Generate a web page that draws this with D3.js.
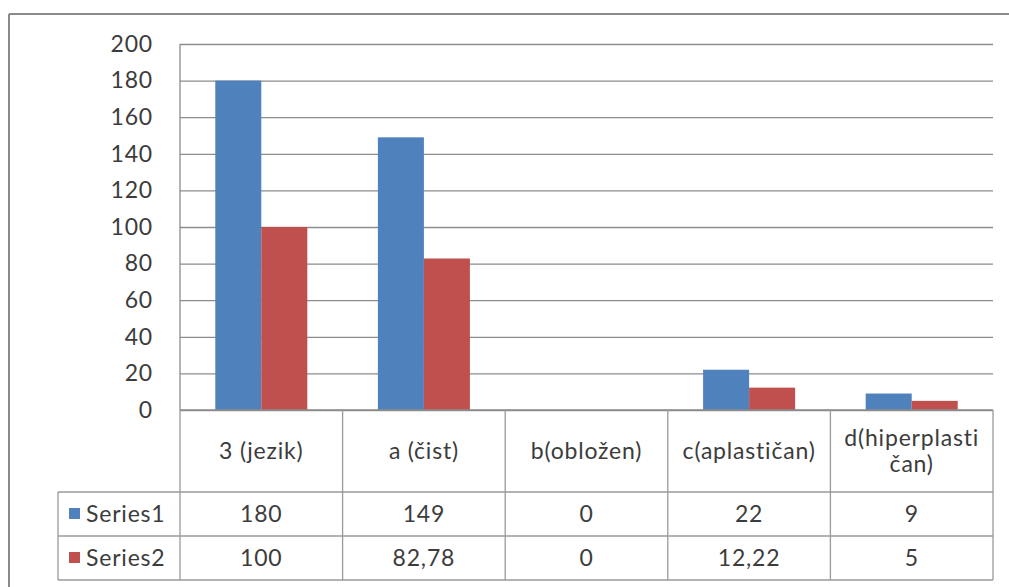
<!DOCTYPE html>
<html>
<head>
<meta charset="utf-8">
<script src="https://cdn.jsdelivr.net/npm/d3@7"></script>
<style>
  html, body { margin: 0; padding: 0; background: #ffffff; }
  svg { display: block; }
</style>
</head>
<body>
<svg id="chart" width="1009" height="587"></svg>
<script>
// Category labels (header cells may wrap onto two lines)
const categories = ["3 (jezik)", "a (čist)", "b(obložen)", "c(aplastičan)", "d(hiperplasti\nčan)"];
const seriesNames = ["Series1", "Series2"];
const series1 = [180, 149, 0, 22, 9];
const series2 = [100, 82.78, 0, 12.22, 5];
const series1Labels = ["180", "149", "0", "22", "9"];
const series2Labels = ["100", "82,78", "0", "12,22", "5"];
const yTicks = [0, 20, 40, 60, 80, 100, 120, 140, 160, 180, 200];
const seriesColors = ["#4F81BD", "#C0504D"];

const svg = d3.select("#chart");
const font = "Lato, 'Open Sans', sans-serif";
const fontSize = 23;
const spacing = "0.8px";
const textColor = "#3c3c3c";
const gridColor = "#8c8c8c";
const tableColor = "#9a9a9a";

const plot = { left: 180, right: 993, top: 44, bottom: 410 };
const tableRows = [410, 492, 536, 580];
const legendLeft = 58;

// Outer chart frame (top and left edges visible)
svg.append("line").attr("x1", 9).attr("x2", 1009).attr("y1", 14).attr("y2", 14)
  .attr("stroke", "#8a8a8a").attr("stroke-width", 2);
svg.append("line").attr("x1", 9).attr("x2", 9).attr("y1", 14).attr("y2", 587)
  .attr("stroke", "#8a8a8a").attr("stroke-width", 2);

const y = d3.scaleLinear().domain([0, 200]).range([plot.bottom, plot.top]);
const col = d3.scaleBand().domain(categories).range([plot.left, plot.right]).padding(0);
const inner = d3.scaleBand().domain(seriesNames).range([0, col.bandwidth()])
  .paddingInner(0).paddingOuter(0.767);

// Gridlines and value axis labels
const yAxis = d3.axisLeft(y).tickValues(yTicks).tickSize(-(plot.right - plot.left)).tickFormat(d3.format("d")).tickPadding(27);
const gAxis = svg.append("g").attr("transform", `translate(${plot.left},0)`).call(yAxis);
gAxis.select(".domain").remove();
gAxis.selectAll(".tick line").attr("stroke", gridColor).attr("stroke-width", 1.3);
gAxis.selectAll(".tick text").attr("fill", textColor).attr("font-family", font)
  .attr("font-size", fontSize).attr("letter-spacing", spacing);

// Vertical axis line
svg.append("line").attr("x1", plot.left).attr("x2", plot.left).attr("y1", plot.top).attr("y2", plot.bottom)
  .attr("stroke", gridColor).attr("stroke-width", 1.3);

// Bars
const data = seriesNames.map((s, i) => ({ name: s, values: i === 0 ? series1 : series2, color: seriesColors[i] }));
data.forEach(s => {
  svg.append("g").selectAll("rect").data(categories).join("rect")
    .attr("x", (c) => col(c) + inner(s.name))
    .attr("width", inner.bandwidth())
    .attr("y", (c, i) => y(s.values[i]))
    .attr("height", (c, i) => y(0) - y(s.values[i]))
    .attr("fill", s.color);
});

// Data table grid
const tbl = svg.append("g").attr("stroke", tableColor).attr("stroke-width", 1.3).attr("fill", "none");
tbl.append("line").attr("x1", plot.left).attr("x2", plot.right).attr("y1", tableRows[0]).attr("y2", tableRows[0]).attr("stroke", gridColor);
for (let r = 1; r < tableRows.length; r++) {
  tbl.append("line").attr("x1", legendLeft).attr("x2", plot.right).attr("y1", tableRows[r]).attr("y2", tableRows[r]);
}
const colEdges = categories.map(c => col(c)).concat([plot.right]);
colEdges.forEach(xv => {
  tbl.append("line").attr("x1", xv).attr("x2", xv).attr("y1", tableRows[0]).attr("y2", tableRows[3]);
});
tbl.append("line").attr("x1", legendLeft).attr("x2", legendLeft).attr("y1", tableRows[1]).attr("y2", tableRows[3]);

// Header cells
const header = svg.append("g").attr("font-family", font).attr("font-size", fontSize)
  .attr("letter-spacing", spacing).attr("fill", textColor).attr("text-anchor", "middle");
categories.forEach(c => {
  const lines = c.split("\n");
  const cx = col(c) + col.bandwidth() / 2;
  const cy = (tableRows[0] + tableRows[1]) / 2;
  const lh = 26;
  lines.forEach((ln, i) => {
    header.append("text").attr("x", cx).attr("y", cy + (i - (lines.length - 1) / 2) * lh).attr("dy", "0.35em").text(ln);
  });
});

// Value rows with legend keys
const rowLabels = [series1Labels, series2Labels];
seriesNames.forEach((s, r) => {
  const cy = (tableRows[r + 1] + tableRows[r + 2]) / 2;
  svg.append("rect").attr("x", 69).attr("y", cy - 6).attr("width", 11).attr("height", 11).attr("fill", seriesColors[r]);
  svg.append("text").attr("x", 86).attr("y", cy).attr("dy", "0.35em")
    .attr("font-family", font).attr("font-size", fontSize).attr("letter-spacing", spacing)
    .attr("fill", textColor).text(s);
  categories.forEach((c, i) => {
    svg.append("text").attr("x", col(c) + col.bandwidth() / 2).attr("y", cy).attr("dy", "0.35em")
      .attr("text-anchor", "middle").attr("font-family", font).attr("font-size", fontSize)
      .attr("letter-spacing", spacing).attr("fill", textColor)
      .text(rowLabels[r][i]);
  });
});
</script>
</body>
</html>
